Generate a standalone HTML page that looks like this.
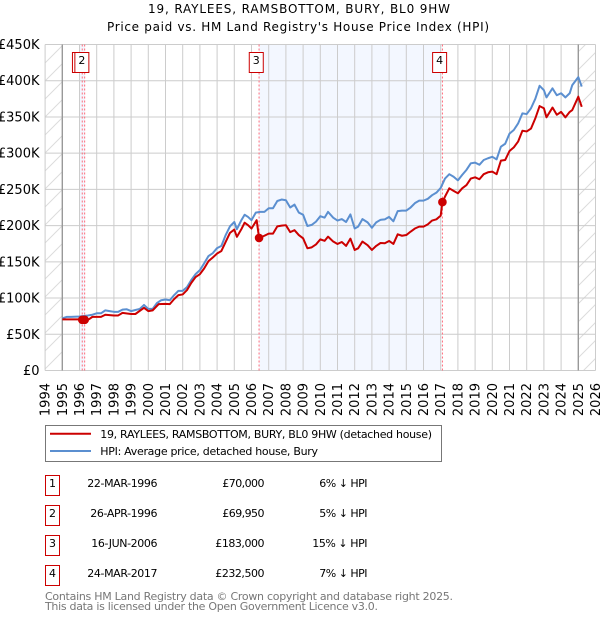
<!DOCTYPE html>
<html>
<head>
<meta charset="utf-8">
<title>19, RAYLEES, RAMSBOTTOM, BURY, BL0 9HW</title>
<style>
html,body{margin:0;padding:0;background:#fff;}
svg{display:block;}
text{font-family:"DejaVu Sans","Liberation Sans",sans-serif;font-size:11px;fill:#000;}
</style>
</head>
<body>
<svg id="chart" xmlns="http://www.w3.org/2000/svg" width="600" height="620" viewBox="0 0 600 620">
  <defs>
    <pattern id="hatch" patternUnits="userSpaceOnUse" width="18" height="18">
      <path d="M0 18L18 0M-2 2L2 -2M16 20L20 16" stroke="#dcdcdc" stroke-width="1" fill="none"/>
    </pattern>
  </defs>
  <text x="148" y="13" textLength="302" style="font-size:12px">19, RAYLEES, RAMSBOTTOM, BURY, BL0 9HW</text>
  <text x="107" y="31" textLength="382" style="font-size:12px">Price paid vs. HM Land Registry's House Price Index (HPI)</text>
  <g id="plot"></g>

  <g>
    <rect x="45.5" y="425.5" width="396" height="36" fill="#fff" stroke="#777" stroke-width="1"/>
    <line x1="50" x2="91" y1="433.7" y2="433.7" stroke="#cc0000" stroke-width="2"/>
    <text x="100.3" y="438" textLength="331.7">19, RAYLEES, RAMSBOTTOM, BURY, BL0 9HW (detached house)</text>
    <line x1="50" x2="91" y1="451" y2="451" stroke="#5b8fd0" stroke-width="2"/>
    <text x="100.3" y="455" textLength="217.7">HPI: Average price, detached house, Bury</text>
  </g>

  <g>
    <g>
      <rect x="45.5" y="475.5" width="14" height="20" fill="#fff" stroke="#cc0000"/>
      <text x="52.5" y="487" text-anchor="middle">1</text>
      <text x="87.3" y="487" textLength="70.2">22-MAR-1996</text>
      <text x="222.3" y="487" textLength="42.2">£70,000</text>
      <text x="319.3" y="487" textLength="48.2">6% ↓ HPI</text>
    </g>
    <g>
      <rect x="45.5" y="505.5" width="14" height="20" fill="#fff" stroke="#cc0000"/>
      <text x="52.5" y="517" text-anchor="middle">2</text>
      <text x="90.3" y="517" textLength="67.2">26-APR-1996</text>
      <text x="222.3" y="517" textLength="42.2">£69,950</text>
      <text x="319.3" y="517" textLength="48.2">5% ↓ HPI</text>
    </g>
    <g>
      <rect x="45.5" y="535.5" width="14" height="20" fill="#fff" stroke="#cc0000"/>
      <text x="52.5" y="547" text-anchor="middle">3</text>
      <text x="91.3" y="547" textLength="66.2">16-JUN-2006</text>
      <text x="215.3" y="547" textLength="49.2">£183,000</text>
      <text x="312.3" y="547" textLength="55.2">15% ↓ HPI</text>
    </g>
    <g>
      <rect x="45.5" y="565.5" width="14" height="20" fill="#fff" stroke="#cc0000"/>
      <text x="52.5" y="577" text-anchor="middle">4</text>
      <text x="87.3" y="577" textLength="70.2">24-MAR-2017</text>
      <text x="215.3" y="577" textLength="49.2">£232,500</text>
      <text x="319.3" y="577" textLength="48.2">7% ↓ HPI</text>
    </g>
  </g>

  <text x="45" y="600" textLength="408" style="fill:#777">Contains HM Land Registry data © Crown copyright and database right 2025.</text>
  <text x="45" y="610" textLength="333" style="fill:#777">This data is licensed under the Open Government Licence v3.0.</text>
</svg>
<script>
const yearTicks = [1994,1995,1996,1997,1998,1999,2000,2001,2002,2003,2004,2005,2006,2007,2008,2009,2010,2011,2012,2013,2014,2015,2016,2017,2018,2019,2020,2021,2022,2023,2024,2025,2026];
const priceTicks = [0,50,100,150,200,250,300,350,400,450];
const priceTickLabels = ['£0','£50K','£100K','£150K','£200K','£250K','£300K','£350K','£400K','£450K'];

const hpiTimes = [1995,1995.25,1995.5,1996,1996.5,1996.75,1997,1997.25,1997.5,1997.75,1998,1998.25,1998.5,1998.75,1999,1999.25,1999.5,1999.75,2000,2000.25,2000.5,2000.75,2001,2001.25,2001.5,2001.75,2002,2002.25,2002.5,2002.75,2003,2003.25,2003.5,2003.75,2004,2004.25,2004.5,2004.75,2005,2005.15,2005.4,2005.6,2005.8,2006,2006.25,2006.5,2006.75,2007,2007.25,2007.5,2007.75,2008,2008.25,2008.5,2008.75,2009,2009.25,2009.5,2009.75,2010,2010.25,2010.45,2010.75,2011,2011.25,2011.5,2011.75,2012,2012.2,2012.45,2012.75,2013,2013.25,2013.5,2013.75,2014,2014.25,2014.5,2014.75,2015,2015.25,2015.5,2015.75,2016,2016.25,2016.5,2016.75,2017,2017.25,2017.5,2017.75,2018,2018.25,2018.5,2018.75,2019,2019.25,2019.5,2019.75,2020,2020.25,2020.5,2020.75,2021,2021.25,2021.5,2021.75,2022,2022.25,2022.5,2022.75,2023,2023.15,2023.5,2023.75,2024,2024.25,2024.5,2024.65,2025,2025.2];
const hpiValues = [72,74,74,74.5,76,77,79,79,83,82,81,81,84,84.5,82,83.5,85,90.5,85,85,93,97,98,97,104,110,110,115,125,133,138.5,148,158,162,169,172,187,199,205,195,207,215,212,207.5,218,219,219,224,224,234,236,235,225,229,218,215,199.5,201,205.5,213,211,219,211,207,209,205,215.5,196,198.6,209,204.5,197,204.5,208,208.7,212,206,220,220.7,220.7,225,231,234.5,234.5,237,242,245.5,252,265,271,267.5,262.5,270,277,286,287,284,290.6,293,295,291.5,309,313,327,332,341,355,354,362,375,393,387,377,389.5,380,382.7,377,382.7,394,405,392];

const paidTimes = [1995,1995.5,1996,1996.3,1996.5,1996.75,1997,1997.25,1997.5,1998,1998.25,1998.5,1999,1999.25,1999.75,2000,2000.25,2000.6,2001,2001.25,2001.5,2001.75,2002,2002.25,2002.5,2002.75,2003,2003.25,2003.5,2003.75,2004,2004.25,2004.5,2004.75,2005,2005.15,2005.4,2005.6,2005.8,2006,2006.3,2006.44,2006.75,2007,2007.25,2007.5,2007.75,2008,2008.25,2008.5,2008.75,2009,2009.25,2009.5,2009.75,2010,2010.25,2010.45,2010.75,2011,2011.25,2011.5,2011.75,2012,2012.2,2012.45,2012.75,2013,2013.25,2013.5,2013.75,2014,2014.25,2014.5,2014.75,2015,2015.25,2015.5,2015.75,2016,2016.25,2016.5,2016.75,2017,2017.1,2017.25,2017.5,2017.75,2018,2018.25,2018.5,2018.75,2019,2019.25,2019.5,2019.75,2020,2020.25,2020.5,2020.75,2021,2021.25,2021.5,2021.75,2022,2022.25,2022.5,2022.75,2023,2023.15,2023.5,2023.75,2024,2024.25,2024.5,2024.65,2025,2025.2];
const paidValues = [70.5,70.5,70.5,70,70,74,74,74,77,76,76,79.6,78,78,86.5,82,83,91.6,92,91.6,98.5,104,105,111,121,129,133,141,151,156,161.5,165,177.6,190,194.6,184.5,194.6,204,200.6,196,207.5,183,186,189,189,199,200,200.6,191,193.7,187,182.5,168.7,170,174,181,179,184.8,178,174.7,177.4,172,182,166.4,168.7,178,173,166.4,172,176,175.6,178.8,174.7,188,186,187,191.7,196,198.6,198.6,201.8,207,208.7,213.8,232.5,240,251.5,248,244.6,251.5,256,265,266.7,264,271,273.6,274.5,271,289.7,290.6,303,308,316,331,330,334,348,365,362,349.5,363,353,357,349.5,357,359.6,378,364];

const saleNumbers = ['1','2','3','4'];
const saleTimes = [1996.16,1996.3,2006.44,2017.1];
const salePrices = [70,69.95,183,232.5];

const SVGNS = 'http://www.w3.org/2000/svg';
const plot = document.getElementById('plot');
function xAxis(t){ return 62.3 + 17.2 * (t - 1995); }
function yAxis(v){ return 370.5 - v * 0.7244; }
const plotLeft = xAxis(yearTicks[0]);
const plotRight = xAxis(yearTicks[yearTicks.length - 1]);
const plotTop = yAxis(priceTicks[priceTicks.length - 1]);
const plotBottom = yAxis(priceTicks[0]);

function mk(tag, attrs){
  const el = document.createElementNS(SVGNS, tag);
  for (const k in attrs) el.setAttribute(k, attrs[k]);
  plot.appendChild(el);
  return el;
}

// shaded ownership bands
const band1 = mk('rect', {x: xAxis(1996) + 0.3, y: plotTop, width: xAxis(saleTimes[1]) - xAxis(1996), height: plotBottom - plotTop, fill: '#f3f7ff'});


const band2 = mk('rect', {x: xAxis(saleTimes[2]), y: plotTop, width: xAxis(saleTimes[3]) - xAxis(saleTimes[2]) - 1, height: plotBottom - plotTop, fill: '#f3f7ff'});



// hatched out-of-range areas
const hatchLeft = mk('rect', {x: plotLeft, y: plotTop, width: xAxis(1995) - plotLeft, height: plotBottom - plotTop, fill: 'url(#hatch)'});


const hatchRight = mk('rect', {x: xAxis(2025), y: plotTop, width: plotRight - xAxis(2025), height: plotBottom - plotTop, fill: 'url(#hatch)'});



// grid and tick labels
priceTicks.forEach(function(v, i){
  const g = mk('line', {x1: plotLeft, x2: plotRight, y1: yAxis(v), y2: yAxis(v), stroke: '#ccc', 'stroke-width': 1});
  
  
  const t = mk('text', {x: 39.5, y: yAxis(v) + 4.5, 'text-anchor': 'end', style: 'font-size:13px'});
  
  
  t.textContent = priceTickLabels[i];
});
yearTicks.forEach(function(y){
  const edge = (y === 1995 || y === 2025);
  const g = mk('line', {x1: xAxis(y), x2: xAxis(y), y1: plotTop, y2: plotBottom, stroke: edge ? '#999' : '#ccc', 'stroke-width': edge ? 1.4 : 1});
  
  
  const px = xAxis(y) + 4.5;
  const t = mk('text', {x: px, y: 383, 'text-anchor': 'end', transform: 'rotate(-90 ' + px + ' 383)', style: 'font-size:13px'});
  
  
  t.textContent = String(y);
});

function linePath(ts, vs){
  return ts.map(function(t, i){ return (i ? 'L' : 'M') + xAxis(t).toFixed(2) + ' ' + yAxis(vs[i]).toFixed(2); }).join('');
}

// sale dotted lines
saleTimes.forEach(function(t){
  const l = mk('line', {x1: xAxis(t), x2: xAxis(t), y1: plotTop, y2: plotBottom, stroke: '#ff6b7a', 'stroke-width': 1, 'stroke-dasharray': '2 2'});
  
  
});

// series
const hpiLine = mk('path', {d: linePath(hpiTimes, hpiValues), fill: 'none', stroke: '#5b8fd0', 'stroke-width': 2, 'stroke-linejoin': 'round'});


const paidLine = mk('path', {d: linePath(paidTimes, paidValues), fill: 'none', stroke: '#cc0000', 'stroke-width': 2, 'stroke-linejoin': 'round'});



// sale markers and number boxes
saleTimes.forEach(function(t, i){
  const c = mk('circle', {cx: xAxis(t), cy: yAxis(salePrices[i]), r: 4.3, fill: '#cc0000'});
  
  
});
saleTimes.forEach(function(t, i){
  const bx = xAxis(t) - 9.8;
  const b = mk('rect', {x: bx, y: 52.5, width: 14, height: 20, fill: '#fff', stroke: '#cc0000', 'stroke-width': 1});
  
  
  const n = mk('text', {x: bx + 7, y: 64, 'text-anchor': 'middle'});
  
  
  n.textContent = saleNumbers[i];
});
</script>
</body>
</html>
